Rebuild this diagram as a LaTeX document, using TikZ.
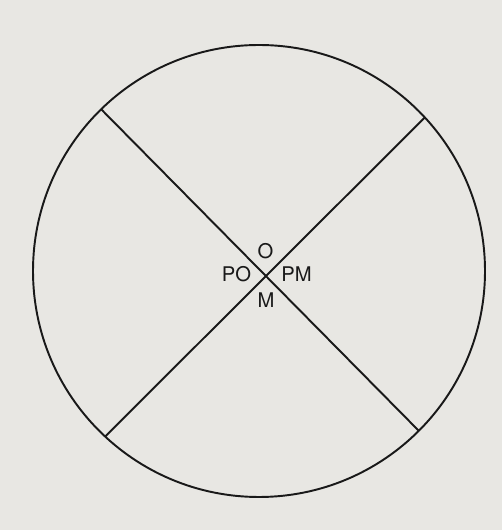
\documentclass[tikz,border=0pt]{standalone}
\usepackage{fontspec}
\setmainfont{TeX Gyre Heros}
\usetikzlibrary{calc}
\definecolor{paper}{rgb}{0.910,0.906,0.890}
\definecolor{ink}{rgb}{0.10,0.10,0.10}
\begin{document}
\begin{tikzpicture}
\fill[paper] (0,0) rectangle (10.04,10.6);
\useasboundingbox (0,0) rectangle (10.04,10.6);
\coordinate (c) at (5.18,5.18);
\draw[ink,line width=1.1pt] (c) circle (4.52);
\coordinate (tl) at ($(c)+(134.3:4.52)$);
\coordinate (br) at ($(c)+(315:4.52)$);
\coordinate (tr) at ($(c)+(42.8:4.52)$);
\coordinate (bl) at ($(c)+(227.1:4.52)$);
\draw[ink,line width=1.1pt] (tl) -- (br);
\draw[ink,line width=1.1pt] (tr) -- (bl);
\node[font=\fontsize{11.5}{13}\selectfont,text=ink] (o) at (5.31,5.57) {O};
\node[font=\fontsize{11.5}{13}\selectfont,text=ink] (po) at (4.73,5.11) {PO};
\node[font=\fontsize{11.5}{13}\selectfont,text=ink] (pm) at (5.93,5.11) {PM};
\node[font=\fontsize{11.5}{13}\selectfont,text=ink] (m) at (5.32,4.60) {M};
\end{tikzpicture}
\end{document}
